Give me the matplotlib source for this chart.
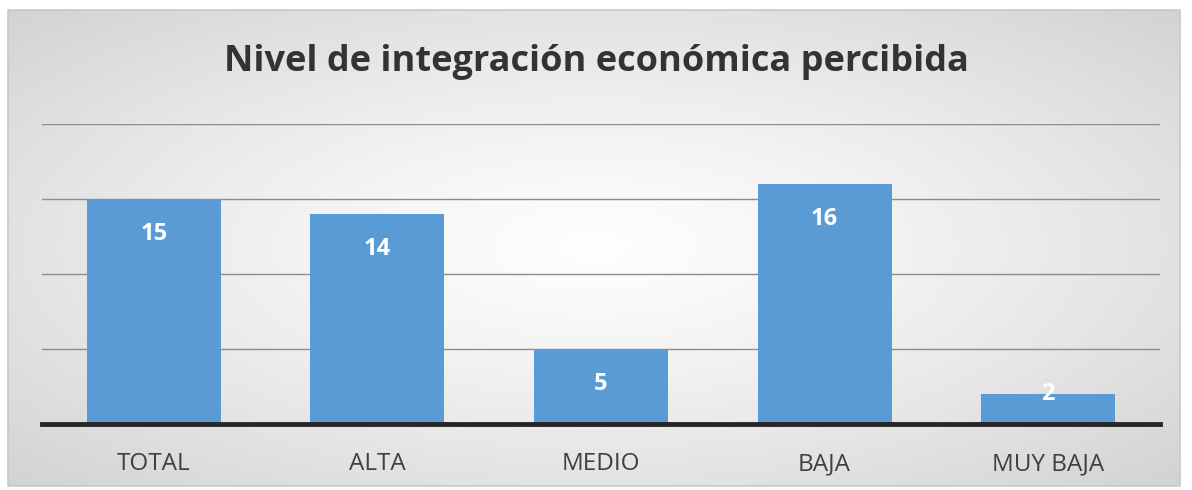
import matplotlib
matplotlib.use("Agg")
import matplotlib.pyplot as plt
import numpy as np
from matplotlib.patches import Rectangle

categories = ["TOTAL", "ALTA", "MEDIO", "BAJA", "MUY BAJA"]
values = [15, 14, 5, 16, 2]
title = "Nivel de integración económica percibida"

W, H = 1192, 490
fig = plt.figure(figsize=(W / 100, H / 100), dpi=100)
fig.patch.set_facecolor("white")

# chart-area background with radial gradient
bx0, by0, bx1, by1 = 8, 10, 1180, 486
bg = fig.add_axes([bx0 / W, 1 - by1 / H, (bx1 - bx0) / W, (by1 - by0) / H])
yy, xx = np.mgrid[0:1:200j, 0:1:400j]
r = np.sqrt(((xx - 0.5) / 0.5) ** 2 + ((yy - 0.5) / 0.5) ** 2) / np.sqrt(2)
val = 0.995 - 0.17 * r ** 1.3
img = np.dstack([val, val, val])
bg.imshow(img, aspect="auto", extent=[0, 1, 0, 1], interpolation="bilinear")
bg.set_axis_off()
bg.add_patch(Rectangle((0, 0), 1, 1, transform=bg.transAxes, fill=False,
                       edgecolor="#c8c8c8", linewidth=1.2, clip_on=False))

# plot area
px0, px1 = 42, 1160
py_base, py_top = 424, 124
ax = fig.add_axes([px0 / W, 1 - py_base / H, (px1 - px0) / W, (py_base - py_top) / H])
ax.patch.set_alpha(0)
x = np.arange(len(categories))
bars = ax.bar(x, values, width=0.6, color="#5b9bd5", zorder=3)
ax.set_xlim(-0.5, len(categories) - 0.5)
ax.set_ylim(0, 20)
ax.set_yticks([0, 5, 10, 15, 20])
ax.yaxis.grid(True, color="#8c8c8c", linewidth=1.0, zorder=0)
ax.tick_params(axis="y", left=False, labelleft=False)
ax.tick_params(axis="x", bottom=False, pad=17)
ax.set_xticks(x)
ax.set_xticklabels(categories, fontsize=17.5, color="#404040", family="Open Sans")
for s in ["top", "right", "left"]:
    ax.spines[s].set_visible(False)
ax.spines["bottom"].set_color("#262626")
ax.spines["bottom"].set_linewidth(3.5)
ax.spines["bottom"].set_zorder(4)

px_per_unit = (py_base - py_top) / 20.0
for xi, v in zip(x, values):
    bar_px = v * px_per_unit
    off_px = -35 if bar_px > 60 else 0
    ax.annotate(str(v), (xi, v), xytext=(0, off_px * 72 / 100), textcoords="offset points",
                ha="center", va="center", color="white", fontsize=17,
                fontweight="bold", family="Open Sans", zorder=5)

fig.text(0.5, 1 - 62 / H, title, ha="center", va="center", fontsize=26,
         fontweight="bold", color="#333333", family="Open Sans")

fig.savefig("out.png", dpi=100, facecolor=fig.get_facecolor())
